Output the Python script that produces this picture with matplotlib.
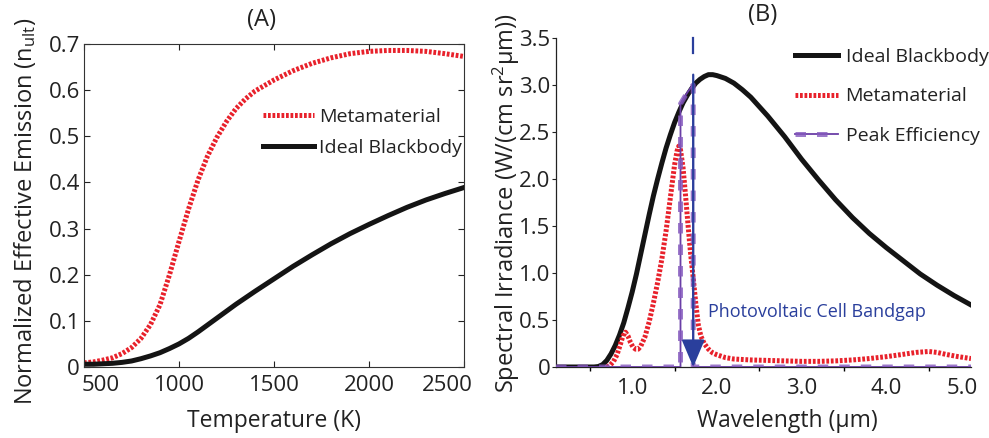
import numpy as np
import matplotlib
matplotlib.use("Agg")
import matplotlib.pyplot as plt
from matplotlib.legend_handler import HandlerTuple
from matplotlib.transforms import ScaledTranslation

plt.rcParams['font.family'] = ['Open Sans', 'DejaVu Sans']
plt.rcParams['mathtext.fontset'] = 'custom'
plt.rcParams['mathtext.rm'] = 'Open Sans'
plt.rcParams['mathtext.it'] = 'Open Sans:italic'

# ---- panel A data: normalized effective emission vs temperature
temp_K = [500, 550, 600, 650, 700, 750, 800, 850, 900, 950, 1000, 1050, 1100,
          1150, 1200, 1250, 1300, 1350, 1400, 1500, 1600, 1700, 1800, 1900,
          2000, 2100, 2200, 2300, 2400, 2500]
meta_A = [0.009, 0.011, 0.015, 0.020, 0.029, 0.042, 0.062, 0.092, 0.135,
          0.200, 0.272, 0.342, 0.405, 0.457, 0.498, 0.532, 0.560, 0.581,
          0.598, 0.622, 0.642, 0.658, 0.670, 0.679, 0.684, 0.686, 0.686,
          0.684, 0.679, 0.673]
bb_A = [0.006, 0.006, 0.007, 0.008, 0.010, 0.013, 0.018, 0.024, 0.031,
        0.040, 0.050, 0.062, 0.076, 0.091, 0.106, 0.121, 0.136, 0.150,
        0.164, 0.191, 0.218, 0.243, 0.267, 0.289, 0.309, 0.328, 0.346,
        0.362, 0.376, 0.389]

# ---- panel B data: spectral irradiance vs wavelength
wl_bb = [0.1, 0.55, 0.6, 0.65, 0.7, 0.75, 0.8, 0.85, 0.9, 0.95, 1.0, 1.05,
         1.1, 1.15, 1.2, 1.25, 1.3, 1.35, 1.4, 1.45, 1.5, 1.55, 1.6, 1.65,
         1.7, 1.75, 1.8, 1.85, 1.9, 1.95, 2.0, 2.1, 2.2, 2.3, 2.4, 2.5, 2.6,
         2.8, 3.0, 3.2, 3.4, 3.6, 3.8, 4.0, 4.2, 4.4, 4.6, 4.8, 5.0]
bb_B = [0.0, 0.0, 0.005, 0.025, 0.07, 0.14, 0.23, 0.34, 0.47, 0.63, 0.80,
        0.99, 1.20, 1.41, 1.62, 1.82, 2.00, 2.17, 2.33, 2.47, 2.60, 2.71,
        2.81, 2.89, 2.96, 3.02, 3.06, 3.09, 3.11, 3.11, 3.10, 3.07, 3.02,
        2.95, 2.87, 2.77, 2.67, 2.45, 2.21, 1.99, 1.78, 1.59, 1.42, 1.27,
        1.13, 0.99, 0.87, 0.76, 0.66]

wl_meta = [0.70, 0.74, 0.78, 0.82, 0.86, 0.89, 0.92, 0.95, 0.98, 1.01, 1.04,
           1.07, 1.10, 1.15, 1.20, 1.25, 1.30, 1.35, 1.40, 1.45, 1.50, 1.53,
           1.55, 1.57, 1.60, 1.63, 1.66, 1.69, 1.72, 1.75, 1.78, 1.81, 1.85,
           1.90, 1.95, 2.0, 2.1, 2.2, 2.4, 2.6, 2.8, 3.0, 3.2, 3.4, 3.6, 3.8,
           4.0, 4.2, 4.35, 4.5, 4.6, 4.7, 4.85, 5.0]
meta_B = [0.0, 0.02, 0.06, 0.13, 0.24, 0.33, 0.37, 0.33, 0.26, 0.21, 0.19,
          0.19, 0.22, 0.32, 0.48, 0.68, 0.90, 1.15, 1.45, 1.80, 2.15, 2.30,
          2.35, 2.31, 2.12, 1.82, 1.50, 1.20, 0.95, 0.68, 0.45, 0.33, 0.25,
          0.19, 0.15, 0.13, 0.10, 0.085, 0.075, 0.07, 0.065, 0.06, 0.06,
          0.065, 0.075, 0.09, 0.11, 0.135, 0.155, 0.165, 0.155, 0.135, 0.11,
          0.09]

wl_peak = [0.1, 1.57, 1.57, 1.61, 1.65, 1.69, 1.72, 1.72, 5.0]
peak_B = [0.0, 0.0, 2.80, 2.86, 2.92, 2.97, 3.00, 0.0, 0.0]

bandgap_um = 1.72
bandgap_top = (3.34, 3.5)     # short dash above the curve
bandgap_arrow_from = 3.11

red = '#e8212b'
black = '#141414'
purple = '#8458bd'
purple_dark = '#6a3ea6'
blue = '#2a3f9c'
txt = '#222222'

fig = plt.figure(figsize=(9.89, 4.38), dpi=100)
axA = fig.add_axes([84 / 989, 71 / 438, 380 / 989, 323 / 438])
axB = fig.add_axes([556 / 989, 71 / 438, 415 / 989, 329 / 438])

dot = (0, (0.55, 0.35))

# ---------------- panel A
axA.plot(temp_K, meta_A, color=red, lw=3.6, ls=dot, dash_capstyle='butt',
         label='Metamaterial')
axA.plot(temp_K, bb_A, color=black, lw=3.6, label='Ideal Blackbody')
axA.set_xlim(500, 2500)
axA.set_ylim(0, 0.7)
axA.set_xticks([500, 1000, 1500, 2000, 2500])
axA.set_yticks(np.arange(0, 0.71, 0.1))
axA.set_yticklabels(['0', '0.1', '0.2', '0.3', '0.4', '0.5', '0.6', '0.7'])
axA.tick_params(direction='in', length=4, width=0.8, top=True, right=True,
                labelsize=16, colors=txt)
axA.tick_params(axis='x', pad=6)
axA.tick_params(axis='y', pad=3)
for s in axA.spines.values():
    s.set_color('#333333')
    s.set_linewidth(0.8)
axA.set_xlabel('Temperature (K)', fontsize=16.5, color=txt, va='center')
axA.xaxis.set_label_coords(274 / 989, 1 - 421 / 438, transform=fig.transFigure)
fig.text(32 / 989, 1 - 405 / 438,
         r'Normalized Effective Emission (n$_{\mathrm{ult}}$)',
         rotation=90, rotation_mode='anchor', ha='left', va='baseline',
         fontsize=17, color=txt)
fig.text(261 / 989, 1 - 20 / 438, '(A)', ha='center', va='center',
         fontsize=17, color=txt)

tA = axA.xaxis.get_major_ticks()
tA[0].label1.set_horizontalalignment('left')
tA[0].label1.set_transform(tA[0].label1.get_transform() +
                           ScaledTranslation(-0.02, 0, fig.dpi_scale_trans))
tA[-1].label1.set_transform(tA[-1].label1.get_transform() +
                            ScaledTranslation(-0.17, 0, fig.dpi_scale_trans))

axA.legend(loc='upper left', bbox_to_anchor=(263 / 989, 1 - 108 / 438),
           bbox_transform=fig.transFigure, frameon=False, fontsize=14,
           handlelength=2.6, handletextpad=0.3, labelspacing=0.65,
           borderpad=0, borderaxespad=0, labelcolor=txt)

# ---------------- panel B
lb, = axB.plot(wl_bb, bb_B, color=black, lw=3.6, zorder=2)
lm, = axB.plot(wl_meta, meta_B, color=red, lw=3.6, ls=dot,
               dash_capstyle='butt', zorder=3)
lp1, = axB.plot(wl_peak, peak_B, color=purple_dark, lw=1.3, zorder=4)
lp2, = axB.plot(wl_peak, peak_B, color=purple, lw=3.6, alpha=0.8,
                ls=(0, (2.1, 2.2)), dash_capstyle='butt', zorder=4)

axB.plot([bandgap_um, bandgap_um], bandgap_top, color=blue, lw=1.6,
         zorder=5, clip_on=False)
axB.annotate('', xy=(bandgap_um, 0), xytext=(bandgap_um, bandgap_arrow_from),
             arrowprops=dict(arrowstyle='-|>,head_length=0.85,head_width=0.36',
                             mutation_scale=20, color=blue, lw=1.6,
                             shrinkA=0, shrinkB=0), zorder=5)
axB.text(1.89, 0.585, 'Photovoltaic Cell Bandgap', color=blue, fontsize=13,
         ha='left', va='center')

axB.set_xlim(0.1, 5.0)
axB.set_ylim(0, 3.5)
axB.set_xticks([1, 2, 3, 4, 5])
axB.set_xticklabels(['1.0', '2.0', '3.0', '4.0', '5.0'])
axB.set_xticks([0.5, 1.5, 2.5, 3.5, 4.5], minor=True)
axB.set_yticks(np.arange(0, 3.51, 0.5))
axB.set_yticklabels(['0', '0.5', '1.0', '1.5', '2.0', '2.5', '3.0', '3.5'])
axB.tick_params(axis='x', which='major', length=0, pad=8)
axB.tick_params(axis='x', which='minor', direction='out', length=3, width=1)
axB.tick_params(axis='y', direction='out', length=3, width=0.8, pad=1)
axB.tick_params(labelsize=16, colors=txt)
axB.spines['top'].set_visible(False)
axB.spines['right'].set_visible(False)
for k in ('left', 'bottom'):
    axB.spines[k].set_color(txt)
    axB.spines[k].set_linewidth(0.9)
tB = axB.xaxis.get_major_ticks()
tB[-1].label1.set_transform(tB[-1].label1.get_transform() +
                            ScaledTranslation(-0.09, 0, fig.dpi_scale_trans))

axB.set_xlabel('Wavelength (µm)', fontsize=16.5, color=txt, va='center')
axB.xaxis.set_label_coords(787 / 989, 1 - 421 / 438, transform=fig.transFigure)
fig.text(514 / 989, 1 - 393 / 438, 'Spectral Irradiance (W/(cm sr$^{2}$µm))',
         rotation=90, rotation_mode='anchor', ha='left', va='baseline',
         fontsize=17, color=txt)
fig.text(763 / 989, 1 - 15 / 438, '(B)', ha='center', va='center',
         fontsize=17, color=txt)

axB.legend(handles=[lb, lm, (lp1, lp2)],
           labels=['Ideal Blackbody', 'Metamaterial', 'Peak Efficiency'],
           handler_map={tuple: HandlerTuple(ndivide=1)},
           loc='upper left', bbox_to_anchor=(795 / 989, 1 - 48 / 438),
           bbox_transform=fig.transFigure, frameon=False, fontsize=14,
           handlelength=2.2, handletextpad=0.4, labelspacing=1.1,
           borderpad=0, borderaxespad=0, labelcolor=txt)

fig.savefig('out.png', dpi=100)
